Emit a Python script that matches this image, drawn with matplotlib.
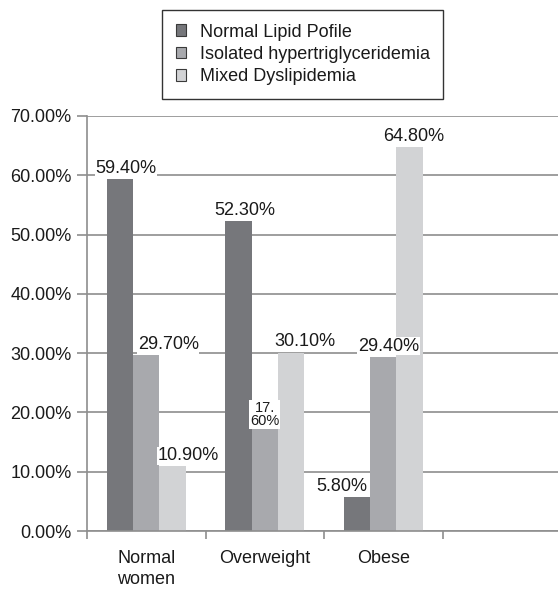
import matplotlib.pyplot as plt
import numpy as np

categories = ['Normal\nwomen', 'Overweight', 'Obese']
series_names = ['Normal Lipid Pofile',
                'Isolated hypertriglyceridemia',
                'Mixed Dyslipidemia']
normal_lipid = [59.4, 52.3, 5.8]
isolated_htg = [29.7, 17.6, 29.4]
mixed_dys = [10.9, 30.1, 64.8]
value_labels = [['59.40%', '52.30%', '5.80%'],
                ['29.70%', '17.\n60%', '29.40%'],
                ['10.90%', '30.10%', '64.80%']]
y_ticks = [0, 10, 20, 30, 40, 50, 60, 70]

colors = ['#76777b', '#a8a9ad', '#d2d3d5']
# label nudges in points (hand placed in the original)
label_dx = [[4.3, 5.0, -10.8],
            [15.8, 0.0, 3.6],
            [11.5, 10.0, 2.9]]


def draw():
    plt.rcParams['font.family'] = ['Liberation Sans', 'DejaVu Sans']
    fig = plt.figure(figsize=(5.58, 5.90), dpi=100)
    ax = fig.add_axes([87 / 558, 0.1, 1 - 87 / 558, 0.7034])

    x = np.arange(len(categories))
    w = 0.223
    series = [normal_lipid, isolated_htg, mixed_dys]
    for k, vals in enumerate(series):
        pos = x + (k - 1) * w
        ax.bar(pos, vals, width=w, color=colors[k], label=series_names[k], zorder=2)
        for j, v in enumerate(vals):
            txt = value_labels[k][j]
            small = '\n' in txt
            ax.annotate(txt, (pos[j], v), xytext=(label_dx[k][j], -1 if small else 1.5),
                        textcoords='offset points', ha='center', va='bottom',
                        fontsize=10.5 if small else 13, linespacing=0.9,
                        color='#1a1a1a', zorder=4,
                        bbox=dict(facecolor='white', edgecolor='none', pad=0.5))

    ax.set_xlim(-0.5, -0.5 + 471 / 118.5)
    ax.set_ylim(0, 70)
    ax.set_yticks(y_ticks)
    ax.set_yticklabels(['%.2f%%' % t for t in y_ticks], fontsize=13, color='#1a1a1a')
    ax.yaxis.grid(True, color='#8e8e8e', linewidth=1.2, zorder=0)
    ax.set_axisbelow(True)

    ax.set_xticks(np.arange(-0.5, 3, 1.0))
    ax.set_xticklabels([])
    ax.set_xticks(x, minor=True)
    ax.set_xticklabels(categories, minor=True, fontsize=13, color='#1a1a1a', linespacing=1.3)
    ax.tick_params(axis='x', which='minor', length=0, pad=14)
    ax.tick_params(axis='x', which='major', length=6, width=1.2, color='#8e8e8e')
    ax.tick_params(axis='y', length=7, width=1.2, color='#8e8e8e', pad=4)

    for s in ['top', 'right']:
        ax.spines[s].set_visible(False)
    for s in ['left', 'bottom']:
        ax.spines[s].set_color('#8e8e8e')
        ax.spines[s].set_linewidth(1.2)

    fig.legend(loc='upper left', bbox_to_anchor=(162 / 558, 1 - 10 / 590),
               fontsize=13, frameon=True, fancybox=False, edgecolor='black',
               handlelength=0.6, handleheight=0.6, handletextpad=0.75,
               labelspacing=0.3, borderpad=0.75, borderaxespad=0)
    leg = fig.legends[0]
    leg.get_frame().set_linewidth(1.0)
    for p in leg.get_patches():
        p.set_edgecolor('#3a3a3a')
        p.set_linewidth(0.8)
    for t in leg.get_texts():
        t.set_color('#1a1a1a')

    plt.savefig('out.png', dpi=100)


if __name__ == "__main__":
    draw()
